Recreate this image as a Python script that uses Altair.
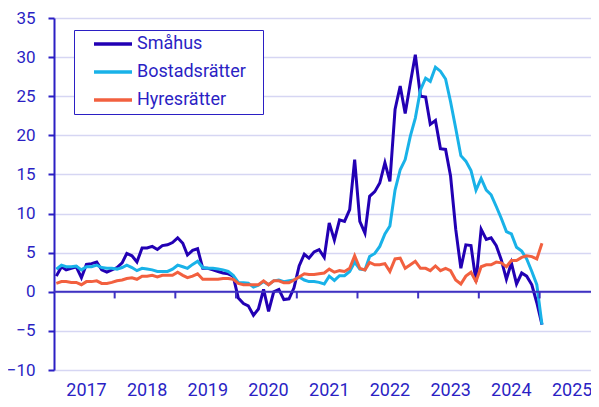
import altair as alt
import pandas as pd

# Monthly observations, Jan 2017 .. Jan 2025 (plotted mid-month)
months = pd.date_range("2017-01-01", periods=97, freq="MS")
dates = [(m + pd.Timedelta(days=14)).strftime("%Y-%m-%d") for m in months]

smahus = [
    2.0, 3.2, 2.8, 3.0, 3.2, 1.8, 3.5, 3.6, 3.8, 2.8, 2.5, 2.8,
    3.1, 3.7, 4.9, 4.6, 3.8, 5.6, 5.6, 5.8, 5.4, 5.9, 6.0, 6.3,
    6.9, 6.2, 4.7, 5.3, 5.5, 3.0, 3.0, 2.8, 2.6, 2.4, 2.3, 2.0,
    -0.8, -1.5, -1.8, -3.0, -2.2, 0.3, -2.5, 0.0, 0.3, -1.0, -0.9, 0.5,
    3.3, 4.8, 4.3, 5.1, 5.4, 4.4, 8.8, 6.6, 9.2, 9.0, 10.5, 16.9,
    9.0, 7.5, 12.2, 12.8, 13.9, 16.5, 14.1, 23.3, 26.3, 22.8, 26.7, 30.3,
    25.0, 24.9, 21.4, 21.9, 18.3, 18.2, 14.8, 8.0, 3.0, 6.0, 5.9, 1.3,
    8.0, 6.7, 6.9, 5.9, 4.1, 1.6, 3.7, 1.0, 2.4, 2.0, 0.9, -1.4,
    -4.2,
]
bostadsratter = [
    2.9, 3.4, 3.2, 3.2, 3.3, 2.8, 3.2, 3.2, 3.4, 3.1, 3.0, 3.0,
    2.9, 3.1, 3.4, 3.1, 2.7, 3.0, 2.9, 2.8, 2.6, 2.6, 2.6, 2.9,
    3.4, 3.2, 3.0, 3.5, 3.9, 3.1, 3.0, 3.0, 2.9, 2.8, 2.6, 2.1,
    1.2, 1.15, 1.1, 0.6, 0.85, 1.3, 0.9, 1.4, 1.5, 1.3, 1.4, 1.5,
    1.9, 1.5, 1.3, 1.3, 1.2, 1.0, 2.0, 1.45, 2.05, 2.05, 2.6, 3.8,
    2.9, 2.8, 4.5, 4.9, 5.8, 7.4, 8.4, 13.0, 15.6, 16.9, 19.9, 22.2,
    25.8, 27.3, 26.9, 28.7, 28.2, 27.2, 24.3, 20.9, 17.4, 16.7, 15.5, 13.0,
    14.5, 13.0, 12.4, 10.9, 9.4, 7.7, 7.4, 5.7, 5.2, 4.2, 2.6, 0.9,
    -4.2,
]
hyresratter = [
    1.07, 1.3, 1.3, 1.2, 1.2, 0.9, 1.3, 1.3, 1.4, 1.07, 1.07, 1.2,
    1.4, 1.5, 1.7, 1.8, 1.6, 2.0, 2.0, 2.1, 1.9, 2.1, 2.1, 2.1,
    2.5, 2.1, 1.8, 2.0, 2.3, 1.6, 1.6, 1.6, 1.6, 1.7, 1.7, 1.6,
    1.07, 0.9, 0.9, 0.9, 0.9, 1.4, 0.9, 1.4, 1.4, 1.15, 1.15, 1.5,
    1.9, 2.3, 2.2, 2.2, 2.3, 2.4, 2.9, 2.5, 2.7, 2.6, 3.0, 4.6,
    3.0, 2.8, 3.75, 3.45, 3.45, 3.6, 2.6, 4.2, 4.3, 3.0, 3.45, 3.9,
    3.0, 3.0, 2.7, 3.3, 2.7, 3.0, 2.7, 1.5, 1.0, 2.0, 2.5, 1.3,
    3.2, 3.45, 3.45, 3.8, 3.7, 3.2, 4.0, 4.0, 4.4, 4.6, 4.5, 4.2,
    6.2,
]

series_names = ["Småhus", "Bostadsrätter", "Hyresrätter"]
series_colors = ["#2200b4", "#19b2e8", "#f2603f"]
label_years = list(range(2017, 2026))
tick_years = [f"{y}-01-01" for y in range(2018, 2026)]
y_ticks = list(range(-10, 40, 5))


def ms(s):
    return int(pd.Timestamp(s).value // 10**6)


text_color = "#2b1fc4"
zero_color = "#3f31c2"
grid_color = "#d6d6f3"

rows = []
for name, vals in zip(series_names, [smahus, bostadsratter, hyresratter]):
    for d, v in zip(dates, vals):
        rows.append({"date": d, "serie": name, "value": v})
df = pd.DataFrame(rows)

ticks_df = pd.DataFrame({"date": tick_years, "lo": [0.0] * len(tick_years),
                         "hi": [-0.85] * len(tick_years)})
zero_df = pd.DataFrame({"zero": [0.0]})

x_scale = alt.Scale(type="utc", domain=[ms("2017-01-01"), ms("2025-11-06")])
y_scale = alt.Scale(domain=[-10, 35], nice=False, zero=False)

x_axis = alt.Axis(
    values=[ms(f"{y}-01-01") for y in label_years],
    format="%Y",
    labelOffset=32,
    labelFlush=False,
    labelOverlap=False,
    domain=False,
    ticks=False,
    tickSize=0,
    grid=False,
    labelPadding=11,
    labelFontSize=18,
    labelColor=text_color,
)
y_axis = alt.Axis(
    values=y_ticks,
    domainColor=text_color,
    domainWidth=2,
    tickColor=text_color,
    tickWidth=2,
    tickSize=6,
    labelPadding=13,
    labelFontSize=17,
    labelColor=text_color,
    gridColor=grid_color,
    gridWidth=1.5,
)

lines = alt.Chart(df).mark_line(strokeWidth=3).encode(
    x=alt.X("date:T", scale=x_scale, title=None, axis=x_axis),
    y=alt.Y("value:Q", scale=y_scale, title=None, axis=y_axis),
    color=alt.Color(
        "serie:N",
        scale=alt.Scale(domain=series_names, range=series_colors),
        sort=series_names,
        legend=alt.Legend(
            orient="none",
            legendX=20,
            legendY=12,
            title=" ",
            titleOrient="right",
            titlePadding=12,
            titleFontSize=1,
            symbolType="stroke",
            symbolSize=1444,
            symbolStrokeWidth=3.5,
            labelFontSize=18,
            labelColor=text_color,
            labelOffset=3,
            strokeColor=text_color,
            fillColor="white",
            padding=5,
            rowPadding=10,
            clipHeight=18,
            symbolOffset=13,
        ),
    ),
)

zero_line = alt.Chart(zero_df).mark_rule(color=zero_color, strokeWidth=2).encode(
    y=alt.Y("zero:Q", scale=y_scale, title=None, axis=y_axis)
)

year_ticks = alt.Chart(ticks_df).mark_rule(color=zero_color, strokeWidth=2).encode(
    x=alt.X("date:T", scale=x_scale, title=None, axis=x_axis),
    y=alt.Y("lo:Q", scale=y_scale, title=None, axis=y_axis),
    y2="hi:Q",
)

chart = alt.layer(lines, zero_line, year_ticks).properties(
    width=537,
    height=352,
    autosize=alt.AutoSizeParams(type="none"),
    padding={"left": 46, "top": 10, "right": 0, "bottom": 28},
).configure_view(stroke=None).configure_axis(
    labelFont="Roboto"
).configure_legend(labelFont="Roboto")

chart.save("out.html", embed_options={"renderer": "svg", "actions": False})
